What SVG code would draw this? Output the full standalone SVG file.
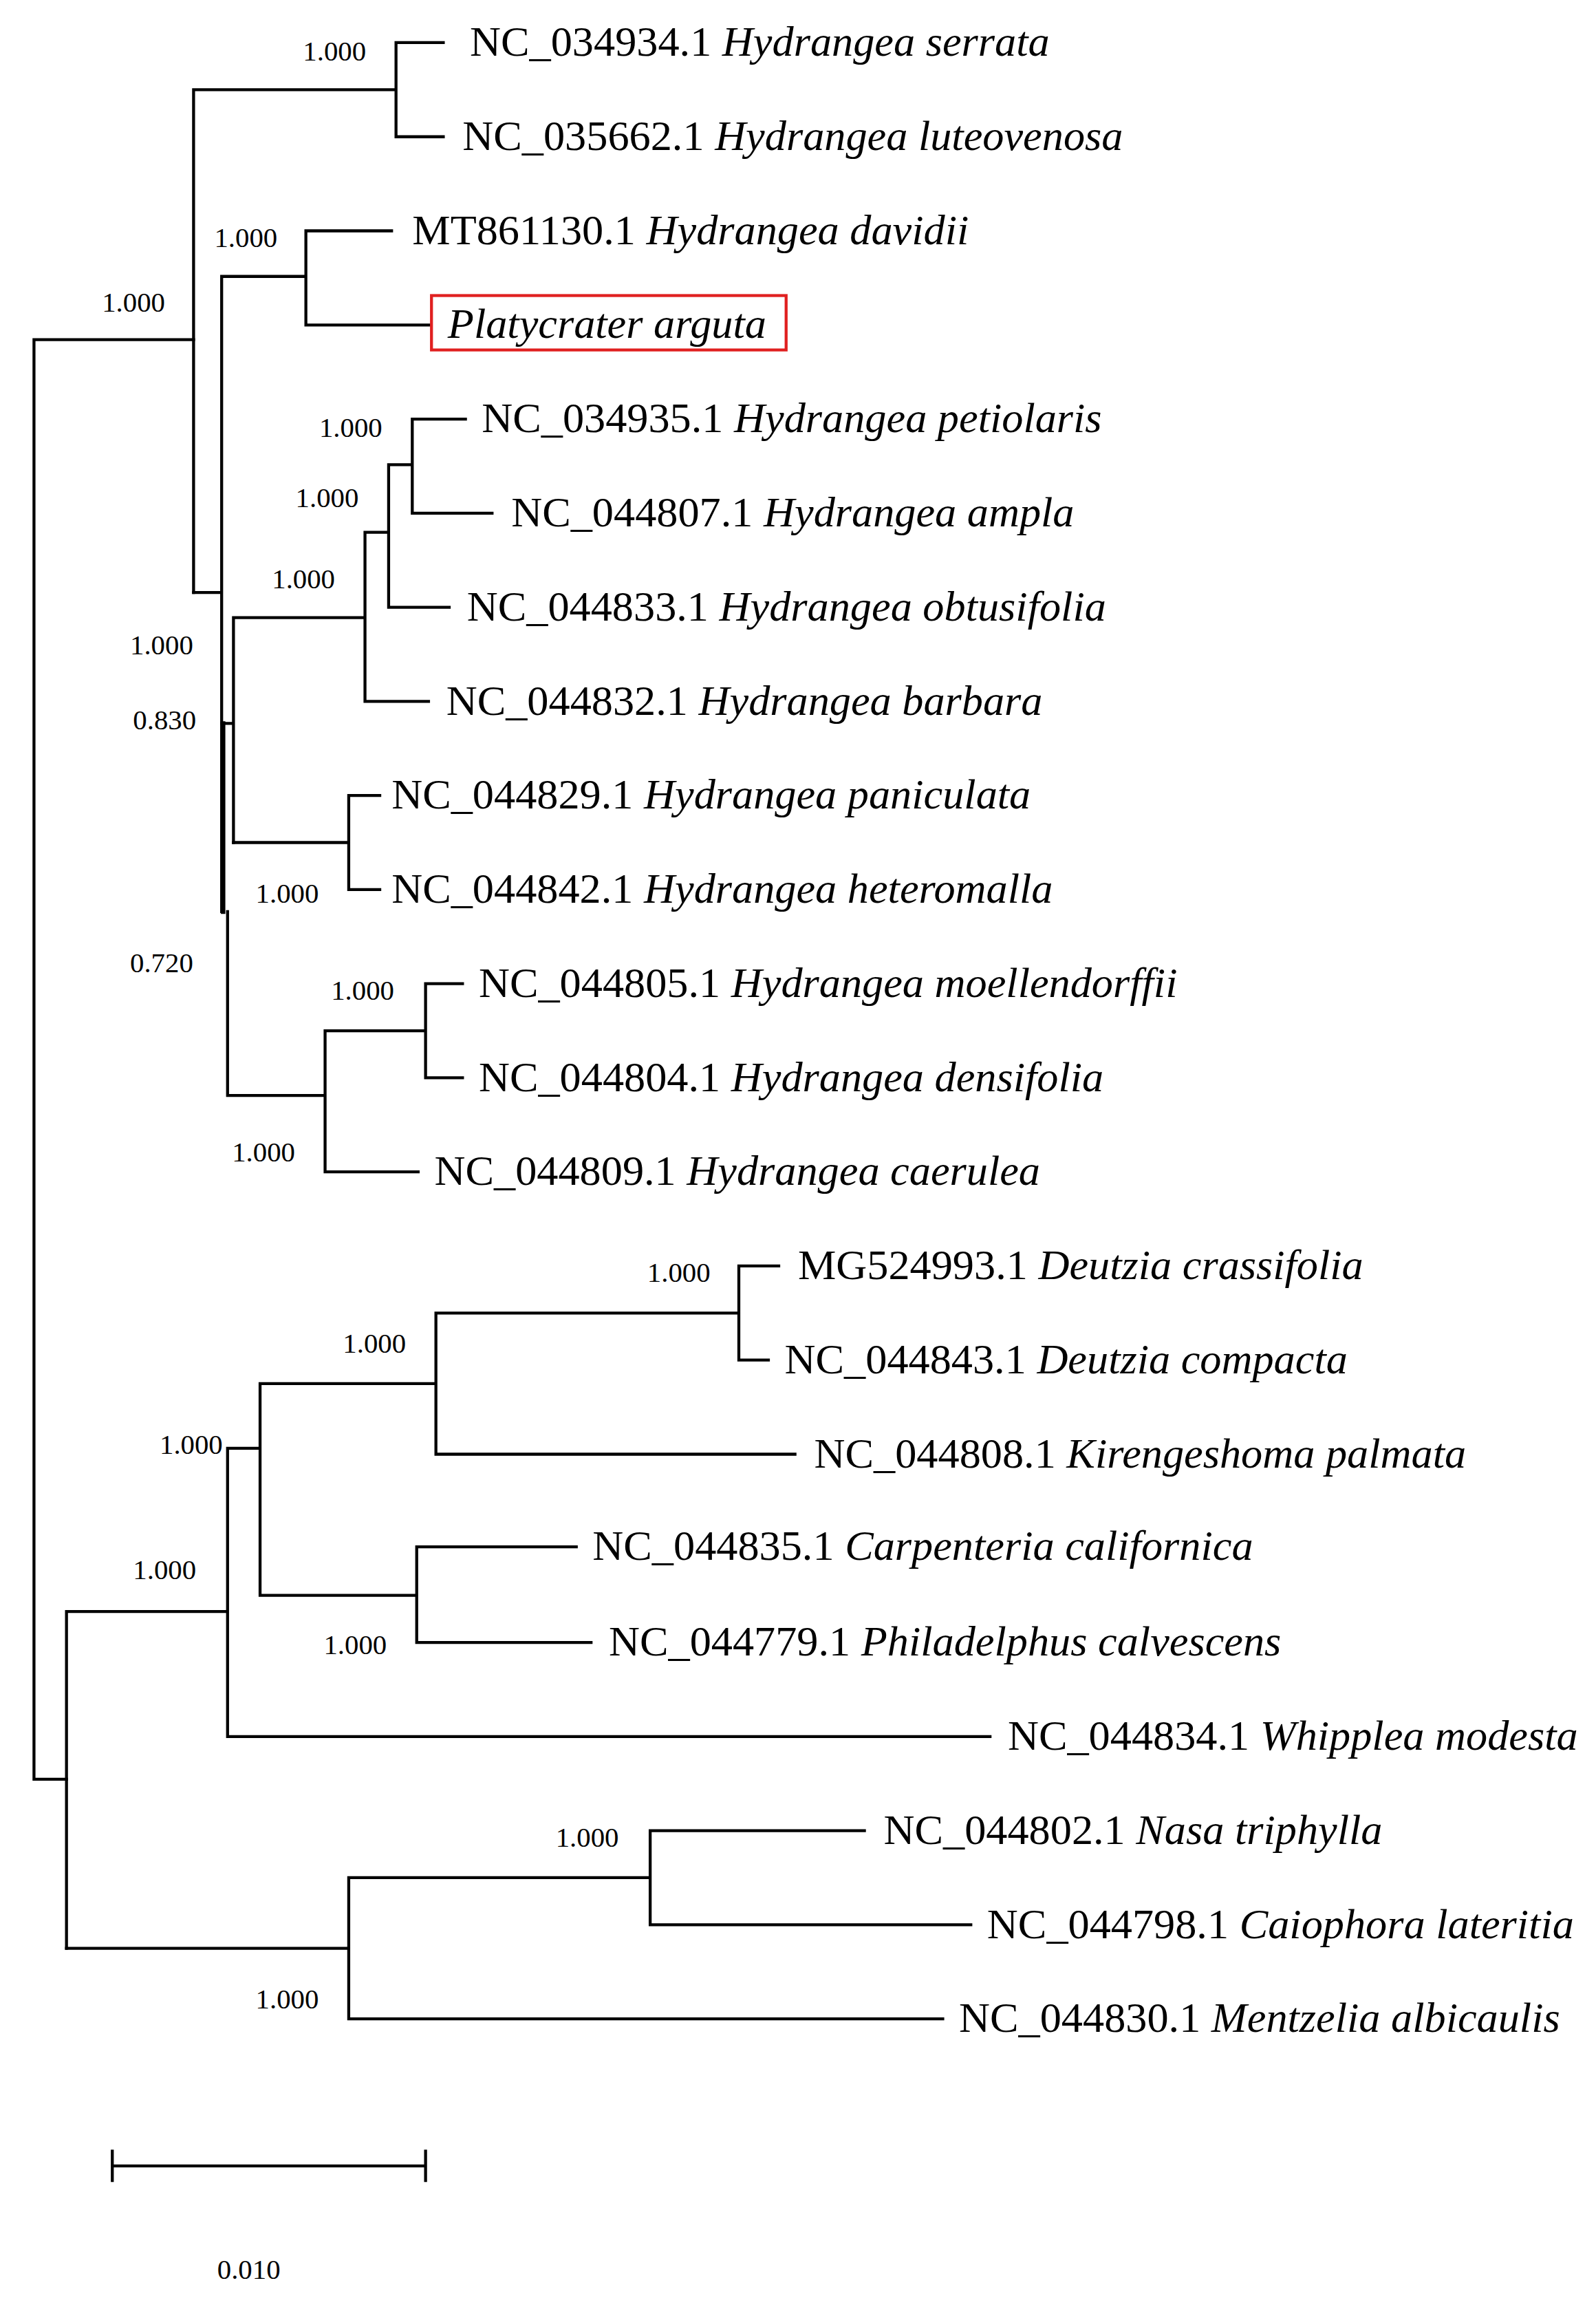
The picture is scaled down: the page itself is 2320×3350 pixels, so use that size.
<svg xmlns="http://www.w3.org/2000/svg" width="2320" height="3350" viewBox="0 0 2320 3350">
<style>
.e{fill:none;stroke:#000;stroke-width:2;stroke-linecap:square}
.t{font-family:"Liberation Serif",serif;font-size:29px;fill:#000}
.t tspan{font-style:italic}
.b{font-family:"Liberation Serif",serif;font-size:19px;fill:#000}
</style>
<rect width="2320" height="3350" fill="#fff"/>
<g transform="scale(2.148 2.137)">
<g id="connectors" class="e">
<path d="M23 231V1210M23 231H131M23 1210H45"/>
<path d="M131 61V403M131 61H268M268 29V93M268 29H300M268 93H300"/>
<path d="M131 403H150M150 188V620M150 188H207M207 157V221M207 157H265M207 221H291"/>
<path d="M151 492V620" style="stroke-width:3"/>
<path d="M150 492H158M158 420V573M158 420H247M247 362V477M247 362H263M247 477H290M263 316V413M263 316H279M279 285V349M279 285H315M279 349H333M263 413H304"/>
<path d="M158 573H236M236 541V605M236 541H257M236 605H257"/>
<path d="M154 620V745M154 745H220M220 701V797M220 701H288M288 669V733M288 669H313M288 733H313M220 797H283"/>
<path d="M45 1096V1325M45 1096H154M154 985V1181M154 1181H670M154 985H176M176 941V1085M176 941H295M295 893V989M295 893H500M500 861V925M500 861H527M500 925H520M295 989H538M176 1085H282M282 1052V1117M282 1052H390M282 1117H400"/>
<path d="M45 1325H236M236 1277V1373M236 1277H440M440 1245V1309M440 1245H585M440 1309H657M236 1373H638"/>
<path d="M76 1473H288M76 1463V1483M288 1463V1483"/>
</g>
<g id="leaves" class="t">
<text id="n1" x="318" y="38">NC_034934.1 <tspan>Hydrangea serrata</tspan></text>
<text id="n2" x="313" y="102">NC_035662.1 <tspan>Hydrangea luteovenosa</tspan></text>
<text id="n3" x="279" y="166">MT861130.1 <tspan>Hydrangea davidii</tspan></text>
<g id="n4"><rect x="292" y="201" width="240" height="37" fill="none" stroke="#e02020" stroke-width="2"/><text x="303" y="230"><tspan>Platycrater arguta</tspan></text></g>
<text id="n5" x="326" y="294">NC_034935.1 <tspan>Hydrangea petiolaris</tspan></text>
<text id="n6" x="346" y="358">NC_044807.1 <tspan>Hydrangea ampla</tspan></text>
<text id="n7" x="316" y="422">NC_044833.1 <tspan>Hydrangea obtusifolia</tspan></text>
<text id="n8" x="302" y="486">NC_044832.1 <tspan>Hydrangea barbara</tspan></text>
<text id="n9" x="265" y="550">NC_044829.1 <tspan>Hydrangea paniculata</tspan></text>
<text id="n10" x="265" y="614">NC_044842.1 <tspan>Hydrangea heteromalla</tspan></text>
<text id="n11" x="324" y="678">NC_044805.1 <tspan>Hydrangea moellendorffii</tspan></text>
<text id="n12" x="324" y="742">NC_044804.1 <tspan>Hydrangea densifolia</tspan></text>
<text id="n13" x="294" y="806">NC_044809.1 <tspan>Hydrangea caerulea</tspan></text>
<text id="n14" x="540" y="870">MG524993.1 <tspan>Deutzia crassifolia</tspan></text>
<text id="n15" x="531" y="934">NC_044843.1 <tspan>Deutzia compacta</tspan></text>
<text id="n16" x="551" y="998">NC_044808.1 <tspan>Kirengeshoma palmata</tspan></text>
<text id="n17" x="401" y="1061">NC_044835.1 <tspan>Carpenteria californica</tspan></text>
<text id="n18" x="412" y="1126">NC_044779.1 <tspan>Philadelphus calvescens</tspan></text>
<text id="n19" x="682" y="1190">NC_044834.1 <tspan>Whipplea modesta</tspan></text>
<text id="n20" x="598" y="1254">NC_044802.1 <tspan>Nasa triphylla</tspan></text>
<text id="n21" x="668" y="1318">NC_044798.1 <tspan>Caiophora lateritia</tspan></text>
<text id="n22" x="649" y="1382">NC_044830.1 <tspan>Mentzelia albicaulis</tspan></text>
</g>
<g id="support" class="b">
<text x="205" y="41">1.000</text>
<text x="145" y="168">1.000</text>
<text x="69" y="212">1.000</text>
<text x="216" y="297">1.000</text>
<text x="200" y="345">1.000</text>
<text x="184" y="400">1.000</text>
<text x="88" y="445">1.000</text>
<text x="90" y="496">0.830</text>
<text x="173" y="614">1.000</text>
<text x="88" y="661">0.720</text>
<text x="224" y="680">1.000</text>
<text x="157" y="790">1.000</text>
<text x="438" y="872">1.000</text>
<text x="232" y="920">1.000</text>
<text x="108" y="989">1.000</text>
<text x="90" y="1074">1.000</text>
<text x="219" y="1125">1.000</text>
<text x="376" y="1256">1.000</text>
<text x="173" y="1366">1.000</text>
<text x="147" y="1550">0.010</text>
</g>
</g>
</svg>
